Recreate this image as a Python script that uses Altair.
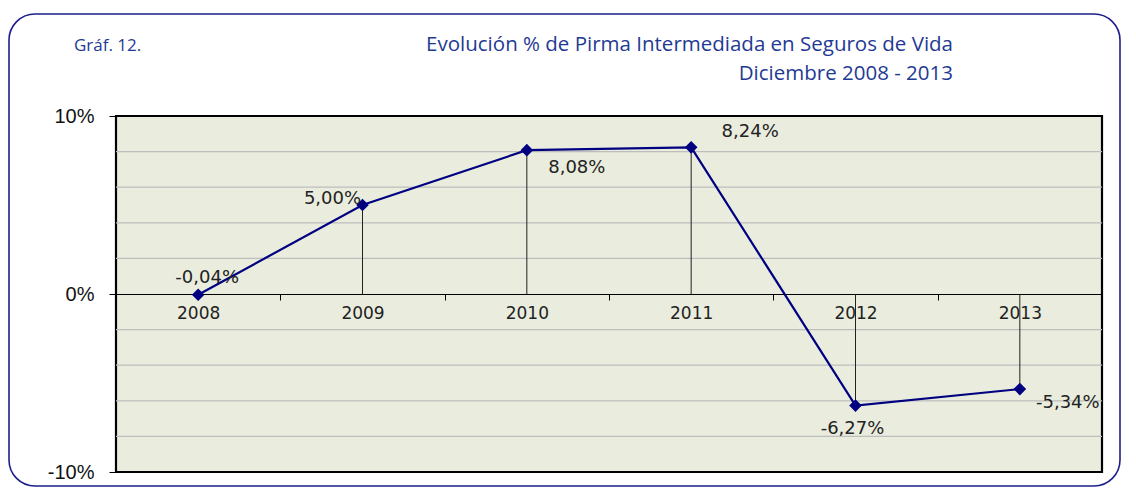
import altair as alt
import pandas as pd

years = ["2008", "2009", "2010", "2011", "2012", "2013"]
values = [-0.04, 5.00, 8.08, 8.24, -6.27, -5.34]
labels = ["-0,04%", "5,00%", "8,08%", "8,24%", "-6,27%", "-5,34%"]
y_ticks = [-10, 0, 10]
grid_values = [-8, -6, -4, -2, 2, 4, 6, 8]
title_line1 = "Evolución % de Pirma Intermediada en Seguros de Vida"
title_line2 = "Diciembre 2008 - 2013"
chart_tag = "Gráf. 12."

df = pd.DataFrame({"year": years, "value": values, "label": labels})
grid_df = pd.DataFrame({"g": grid_values})

W, H = 986, 356
NAVY = "#000080"
TITLE_BLUE = "#1F3A93"

x_enc = alt.X(
    "year:N",
    sort=years,
    scale=alt.Scale(type="band", paddingInner=0, paddingOuter=0),
    axis=alt.Axis(
        title=None,
        offset=-178,
        tickBand="extent",
        domainColor="black",
        domainWidth=1.2,
        tickColor="black",
        tickSize=6,
        labelPadding=13,
        labelAlign="center",
        labelFont="DejaVu Sans",
        labelFontSize=17,
        labelColor="#222222",
        labelAngle=0,
        grid=False,
    ),
)

y_scale = alt.Scale(domain=[-10, 10], nice=False, zero=False)
y_axis = alt.Axis(
    title=None,
    values=y_ticks,
    labelExpr="datum.value + '%'",
    labelOverlap=False,
    labelFont="Liberation Sans",
    labelFontSize=20,
    labelColor="#111111",
    labelPadding=15,
    tickSize=7,
    tickColor="black",
    grid=False,
    domain=False,
)

base = alt.Chart(df)

grid = alt.Chart(grid_df).mark_rule(color="#BDBDBD", strokeWidth=1.3).encode(
    y=alt.Y("g:Q", scale=y_scale, axis=y_axis)
)

drops = base.mark_rule(color="#222222", strokeWidth=1).encode(
    x=alt.X("year:N", sort=years),
    y=alt.Y("value:Q", scale=y_scale, axis=y_axis),
    y2=alt.datum(0),
)

line = base.mark_line(color=NAVY, strokeWidth=2.2).encode(
    x=x_enc, y=alt.Y("value:Q", scale=y_scale, axis=y_axis)
)

points = base.mark_point(shape="diamond", filled=True, color=NAVY, size=160, opacity=1).encode(
    x=alt.X("year:N", sort=years), y=alt.Y("value:Q", scale=y_scale, axis=y_axis)
)

offsets = {
    "2008": (9, -17),
    "2009": (-30, -6),
    "2010": (50, 18),
    "2011": (59, -15),
    "2012": (-3, 23),
    "2013": (48, 14),
}
text_layers = []
for yr in years:
    dx, dy = offsets[yr]
    text_layers.append(
        base.transform_filter(alt.datum.year == yr)
        .mark_text(font="DejaVu Sans", fontSize=18, color="#222222", dx=dx, dy=dy, baseline="middle")
        .encode(
            x=alt.X("year:N", sort=years),
            y=alt.Y("value:Q", scale=y_scale, axis=y_axis),
            text="label:N",
        )
    )

one = pd.DataFrame({"tag": [chart_tag], "t1": [title_line1], "t2": [title_line2]})
frame = alt.Chart(one).mark_rect(
    fillOpacity=0, stroke="#1E1E8C", strokeWidth=1.6, cornerRadius=26
).encode(
    x=alt.value(-107), x2=alt.value(W + 18), y=alt.value(-102), y2=alt.value(H + 14)
)

tag = alt.Chart(one).mark_text(
    font="Open Sans", fontSize=17, color=TITLE_BLUE, align="left", baseline="middle"
).encode(text="tag:N", x=alt.value(-42), y=alt.value(-70))

t1 = alt.Chart(one).mark_text(
    font="Open Sans", fontSize=20.5, color=TITLE_BLUE, align="right", baseline="middle"
).encode(text="t1:N", x=alt.value(837), y=alt.value(-71))

t2 = alt.Chart(one).mark_text(
    font="Open Sans", fontSize=20.5, color=TITLE_BLUE, align="right", baseline="middle"
).encode(text="t2:N", x=alt.value(837), y=alt.value(-42))

chart = (
    alt.layer(frame, grid, drops, line, points, *text_layers, tag, t1, t2)
    .properties(
        width=W,
        height=H,
        padding={"left": 0, "top": 5, "right": 0, "bottom": 0},
    )
    .configure_view(fill="#EAEDDE", stroke="black", strokeWidth=2.2)
)

chart.save("out.html", embed_options={"renderer": "svg", "actions": False})
